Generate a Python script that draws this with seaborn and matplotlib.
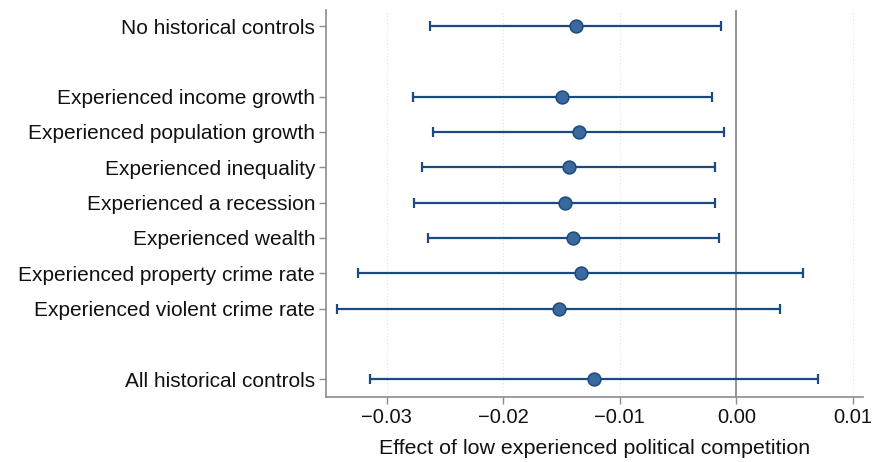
import numpy as np
import pandas as pd
import matplotlib
matplotlib.use("Agg")
import matplotlib.pyplot as plt
import seaborn as sns

# Specifications (top to bottom) and their estimates with 95% CIs
labels = [
    "No historical controls",
    "Experienced income growth",
    "Experienced population growth",
    "Experienced inequality",
    "Experienced a recession",
    "Experienced wealth",
    "Experienced property crime rate",
    "Experienced violent crime rate",
    "All historical controls",
]
groups = ["base", "single", "single", "single", "single", "single", "single", "single", "all"]
coef = [-0.01378, -0.01496, -0.01351, -0.01436, -0.01473, -0.01397, -0.01333, -0.01524, -0.01218]
ci_low = [-0.02627, -0.02778, -0.02603, -0.02697, -0.02763, -0.02645, -0.03243, -0.03428, -0.03140]
ci_high = [-0.00129, -0.00209, -0.00106, -0.00182, -0.00182, -0.00146, 0.00574, 0.00374, 0.00705]
xticks = [-0.03, -0.02, -0.01, 0.00, 0.01]

# Row positions: one empty row between groups of specifications
pos = []
row = 0
for i, g in enumerate(groups):
    if i > 0 and g != groups[i - 1]:
        row += 1
    pos.append(row)
    row += 1

df = pd.DataFrame({"label": labels, "pos": pos, "coef": coef,
                   "lo": ci_low, "hi": ci_high})

sns.set_theme(style="white")
plt.rcParams["font.family"] = ["Liberation Sans", "DejaVu Sans"]

navy = "#1a4a7f"
fill = "#3a699d"

fig = plt.figure(figsize=(8.72, 4.62), dpi=100)
ax = fig.add_axes([0.374, 0.141, 0.616, 0.837])

for t in xticks:
    ax.axvline(t, color="#e2e2e2", lw=0.8, ls=(0, (1, 2)), zorder=0)
ax.axvline(0, color="#8c8c8c", lw=1.3, zorder=1)

ax.errorbar(df["coef"], df["pos"],
            xerr=[df["coef"] - df["lo"], df["hi"] - df["coef"]],
            fmt="none", ecolor=navy, elinewidth=1.6, capsize=3.6,
            capthick=1.6, zorder=2)
sns.scatterplot(data=df, x="coef", y="pos", ax=ax, s=85, color=fill,
                edgecolor=navy, linewidth=1.1, zorder=3, legend=False)

ax.set_xlim(-0.0352, 0.0109)
ax.set_ylim(max(pos) + 0.5, -0.45)
ax.set_yticks(df["pos"])
ax.set_yticklabels(df["label"], fontsize=15)
ax.set_xticks(xticks)
ax.set_xticklabels([f"{t:.2f}".replace("-", "\u2212") for t in xticks],
                   fontsize=14.5)
ax.set_xlabel("Effect of low experienced political competition",
              fontsize=15.4, color="#111111", labelpad=9)
ax.set_ylabel("")

for side in ["top", "right"]:
    ax.spines[side].set_visible(False)
for side in ["left", "bottom"]:
    ax.spines[side].set_color("#8c8c8c")
    ax.spines[side].set_linewidth(1.2)
ax.tick_params(axis="both", which="major", length=5, width=1.0,
               color="#8c8c8c", labelcolor="#111111",
               direction="out", left=True, bottom=True, pad=3)

fig.savefig("out.png", dpi=100)
